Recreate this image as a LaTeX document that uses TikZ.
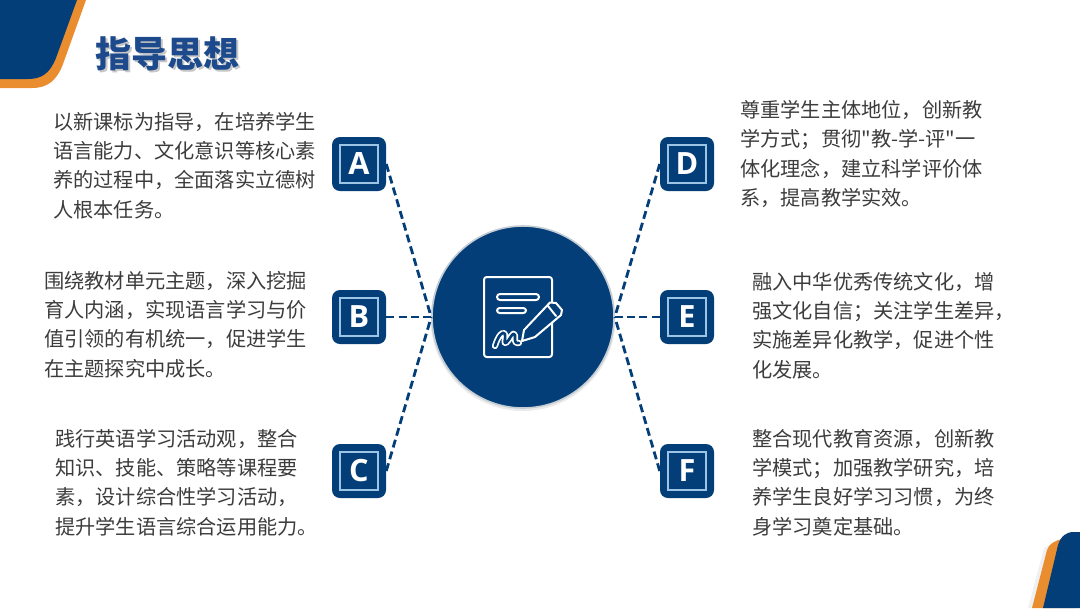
\documentclass[tikz,border=0pt]{standalone}
\usepackage{fontspec}
\setmainfont{Noto Sans CJK SC}[Ligatures=TeXOff]
\newfontfamily\latinbold{Open Sans}
\usetikzlibrary{calc}
\definecolor{navy}{HTML}{043E78}
\definecolor{accent}{HTML}{E98D2E}
\definecolor{bodytext}{HTML}{3C3C3C}
\definecolor{titleblue}{HTML}{1C4A8C}
\definecolor{ringgrey}{HTML}{C4CCD4}
\definecolor{insetline}{HTML}{9CC4E4}
\tikzset{
  letterbox/.style={draw=none,fill=navy,rounded corners=6pt,minimum width=40.5pt,minimum height=40.5pt,inner sep=0pt,
    text=white,font=\latinbold\fontsize{23}{23}\selectfont\bfseries,
    path picture={\draw[insetline,line width=0.8pt,sharp corners] ($(path picture bounding box.south west)+(6pt,6pt)$) rectangle ($(path picture bounding box.north east)+(-6pt,-6pt)$);}},
  bodyblock/.style={anchor=west,align=left,inner sep=0pt,text=bodytext,font=\fontsize{15.15}{22}\selectfont},
  dashline/.style={navy,line width=2.1pt,dash pattern=on 6pt off 3.2pt},
  iconline/.style={white,line width=1.5pt,line join=round,line cap=round},
}
\begin{document}
\begin{tikzpicture}[x=0.75pt,y=-0.75pt]
\useasboundingbox (0,0) rectangle (1080,608);
\fill[white] (0,0) rectangle (1080,608);
% corners
\fill[accent] (0,0) -- (86,0) -- (63,64) .. controls (57,80) and (48,88) .. (32,88) -- (0,88) -- cycle;
\fill[navy] (0,0) -- (77,0) -- (56,58) .. controls (50,73) and (42,79) .. (28,79) -- (0,79) -- cycle;
\fill[black!6] (1028,608) -- (1044,548) -- (1050,545) -- (1036,608) -- cycle;
\fill[accent] (1032,608) -- (1047,550) .. controls (1049,544) and (1054,541) .. (1062,539) -- (1075,608) -- cycle;
\fill[navy] (1043,608) -- (1058,545) .. controls (1061,536) and (1066,532) .. (1074,532) -- (1080,532) -- (1080,608) -- cycle;
% title
\node[anchor=center,text=black!22,font=\fontsize{27}{27}\selectfont\bfseries] at (169,56) {指导思想};
\node[anchor=center,text=titleblue,font=\fontsize{27}{27}\selectfont\bfseries] (title) at (167,54) {指导思想};
% hub
\fill[black!8] (523,318.5) circle (92.5);
\node[circle,fill=navy,draw=ringgrey,line width=1.2pt,minimum size=136.5pt,inner sep=0pt] (hub) at (523,317) {};
% letter boxes
\node[letterbox] (boxA) at (359,164) {A};
\node[letterbox] (boxB) at (359,317) {B};
\node[letterbox] (boxC) at (359,471) {C};
\node[letterbox] (boxD) at (687,164) {D};
\node[letterbox] (boxE) at (687,317) {E};
\node[letterbox] (boxF) at (687,471) {F};
% connectors
\draw[dashline] (boxA.east) -- (hub.west);
\draw[dashline] (boxB.east) -- (hub.west);
\draw[dashline] (boxC.east) -- (hub.west);
\draw[dashline] (boxD.west) -- (hub.east);
\draw[dashline] (boxE.west) -- (hub.east);
\draw[dashline] (boxF.west) -- (hub.east);
% icon
\draw[iconline,rounded corners=2pt] (552,302) -- (552,277) -- (484,277) -- (484,357) -- (552,357) -- (552,320);
\draw[iconline,rounded corners=2.2pt] (497,294) rectangle (539,300);
\draw[iconline,rounded corners=2pt] (497,308) rectangle (526,313);
\draw[line width=4.6pt,white,line cap=round,line join=round] (495,346) .. controls (498,336) and (503,330) .. (505,334) .. controls (506,339) and (503,344) .. (506,343) .. controls (510,340) and (513,330) .. (515,335) .. controls (515,340) and (514,344) .. (519,343);
\draw[line width=2pt,navy,line cap=round,line join=round] (495,346) .. controls (498,336) and (503,330) .. (505,334) .. controls (506,339) and (503,344) .. (506,343) .. controls (510,340) and (513,330) .. (515,335) .. controls (515,340) and (514,344) .. (519,343);
\draw[iconline,fill=navy] (522,341) -- (524,330) -- (550,302.5) -- (556,303) -- (562,310) -- (561,315) -- (535,337) -- cycle;
\draw[iconline] (548,306) -- (556,316);
% texts
\node[bodyblock] (textA) at (53,165.5) {以新课标为指导，在培养学生\\语言能力、文化意识等核心素\\养的过程中，全面落实立德树\\人根本任务。};
\node[bodyblock] (textB) at (44,324.5) {围绕教材单元主题，深入挖掘\\育人内涵，实现语言学习与价\\值引领的有机统一，促进学生\\在主题探究中成长。};
\node[bodyblock] (textC) at (55,482.5) {践行英语学习活动观，整合\\知识、技能、策略等课程要\\素，设计综合性学习活动，\\提升学生语言综合运用能力。};
\node[bodyblock] (textD) at (740,154) {尊重学生主体地位，创新教\\学方式；贯彻"教-学-评"一\\体化理念，建立科学评价体\\系，提高教学实效。};
\node[bodyblock] (textE) at (752,325.5) {融入中华优秀传统文化，增\\强文化自信；关注学生差异，\\实施差异化教学，促进个性\\化发展。};
\node[bodyblock] (textF) at (752,482.5) {整合现代教育资源，创新教\\学模式；加强教学研究，培\\养学生良好学习习惯，为终\\身学习奠定基础。};
\end{tikzpicture}
\end{document}
